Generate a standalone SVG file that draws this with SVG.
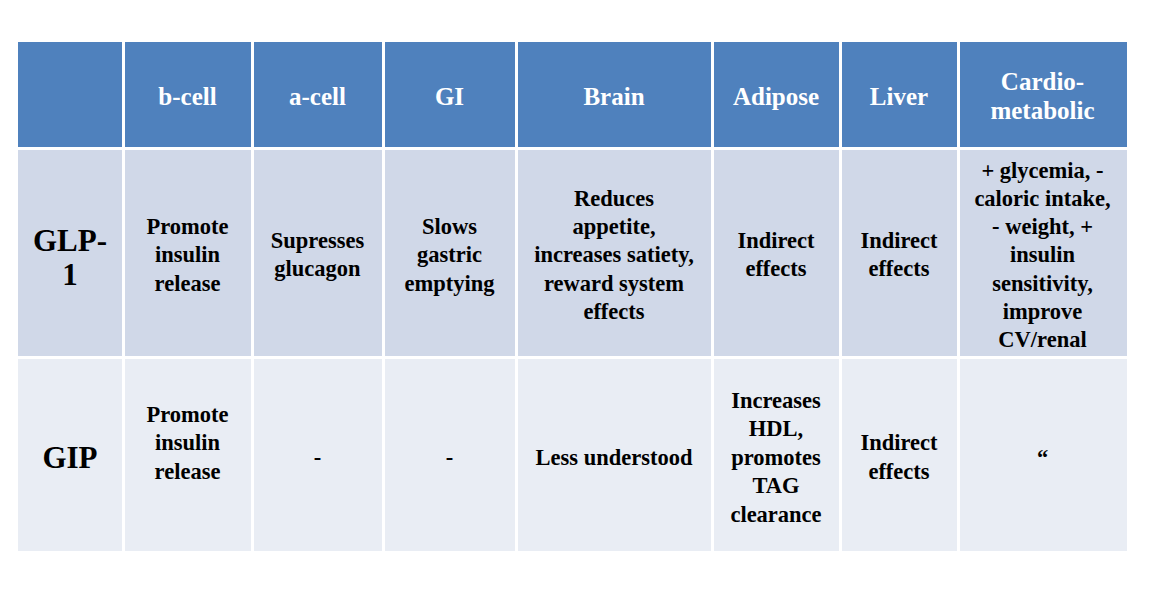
<svg xmlns="http://www.w3.org/2000/svg" width="1150" height="599" viewBox="0 0 1150 599">
<style>
.h{fill:#4F81BD}.r1{fill:#D0D8E8}.r2{fill:#E9EDF4}
text{font-family:"Liberation Serif","Times New Roman",serif;font-weight:bold;text-anchor:middle}
.ht{fill:#fff;font-size:25px}.bt{fill:#000;font-size:22.5px}.lt{fill:#000;font-size:31px}
</style>
<rect width="1150" height="599" fill="#fff"/>
<g id="table">
<rect x="18" y="42" width="1109" height="509" fill="#fff"/>
<g id="header">
<rect class="h" x="18" y="42" width="104" height="105"/>
<rect class="h" x="125" y="42" width="126" height="105"/>
<rect class="h" x="254" y="42" width="128" height="105"/>
<rect class="h" x="385" y="42" width="130" height="105"/>
<rect class="h" x="518" y="42" width="193" height="105"/>
<rect class="h" x="714" y="42" width="125" height="105"/>
<rect class="h" x="842" y="42" width="115" height="105"/>
<rect class="h" x="960" y="42" width="167" height="105"/>
<text class="ht" x="187.5" y="105">b-cell</text>
<text class="ht" x="317.5" y="105">a-cell</text>
<text class="ht" x="449.5" y="105">GI</text>
<text class="ht" x="614" y="105">Brain</text>
<text class="ht" x="776" y="105">Adipose</text>
<text class="ht" x="899" y="105">Liver</text>
<text class="ht" x="1042.5" y="90">Cardio-</text>
<text class="ht" x="1042.5" y="119">metabolic</text>
</g>
<g id="row-glp1">
<rect class="r1" x="18" y="150" width="104" height="206"/>
<rect class="r1" x="125" y="150" width="126" height="206"/>
<rect class="r1" x="254" y="150" width="128" height="206"/>
<rect class="r1" x="385" y="150" width="130" height="206"/>
<rect class="r1" x="518" y="150" width="193" height="206"/>
<rect class="r1" x="714" y="150" width="125" height="206"/>
<rect class="r1" x="842" y="150" width="115" height="206"/>
<rect class="r1" x="960" y="150" width="167" height="206"/>
<text class="lt" x="70" y="251">GLP-</text>
<text class="lt" x="70" y="285">1</text>
<text class="bt" x="187.5" y="234">Promote</text>
<text class="bt" x="187.5" y="262">insulin</text>
<text class="bt" x="187.5" y="291">release</text>
<text class="bt" x="317.5" y="248">Supresses</text>
<text class="bt" x="317.5" y="276">glucagon</text>
<text class="bt" x="449.5" y="234">Slows</text>
<text class="bt" x="449.5" y="262">gastric</text>
<text class="bt" x="449.5" y="291">emptying</text>
<text class="bt" x="614" y="206">Reduces</text>
<text class="bt" x="614" y="234">appetite,</text>
<text class="bt" x="614" y="262">increases satiety,</text>
<text class="bt" x="614" y="291">reward system</text>
<text class="bt" x="614" y="319">effects</text>
<text class="bt" x="776" y="248">Indirect</text>
<text class="bt" x="776" y="276">effects</text>
<text class="bt" x="899" y="248">Indirect</text>
<text class="bt" x="899" y="276">effects</text>
<text class="bt" x="1042.5" y="178">+ glycemia, -</text>
<text class="bt" x="1042.5" y="206">caloric intake,</text>
<text class="bt" x="1042.5" y="234">- weight, +</text>
<text class="bt" x="1042.5" y="262">insulin</text>
<text class="bt" x="1042.5" y="291">sensitivity,</text>
<text class="bt" x="1042.5" y="319">improve</text>
<text class="bt" x="1042.5" y="347">CV/renal</text>
</g>
<g id="row-gip">
<rect class="r2" x="18" y="359" width="104" height="192"/>
<rect class="r2" x="125" y="359" width="126" height="192"/>
<rect class="r2" x="254" y="359" width="128" height="192"/>
<rect class="r2" x="385" y="359" width="130" height="192"/>
<rect class="r2" x="518" y="359" width="193" height="192"/>
<rect class="r2" x="714" y="359" width="125" height="192"/>
<rect class="r2" x="842" y="359" width="115" height="192"/>
<rect class="r2" x="960" y="359" width="167" height="192"/>
<text class="lt" x="70" y="468">GIP</text>
<text class="bt" x="187.5" y="422">Promote</text>
<text class="bt" x="187.5" y="450">insulin</text>
<text class="bt" x="187.5" y="479">release</text>
<text class="bt" x="317.5" y="465">-</text>
<text class="bt" x="449.5" y="465">-</text>
<text class="bt" x="614" y="465">Less understood</text>
<text class="bt" x="776" y="408">Increases</text>
<text class="bt" x="776" y="436">HDL,</text>
<text class="bt" x="776" y="465">promotes</text>
<text class="bt" x="776" y="493">TAG</text>
<text class="bt" x="776" y="522">clearance</text>
<text class="bt" x="899" y="450">Indirect</text>
<text class="bt" x="899" y="479">effects</text>
<text class="bt" x="1042.5" y="465">“</text>
</g>
</g>
</svg>
